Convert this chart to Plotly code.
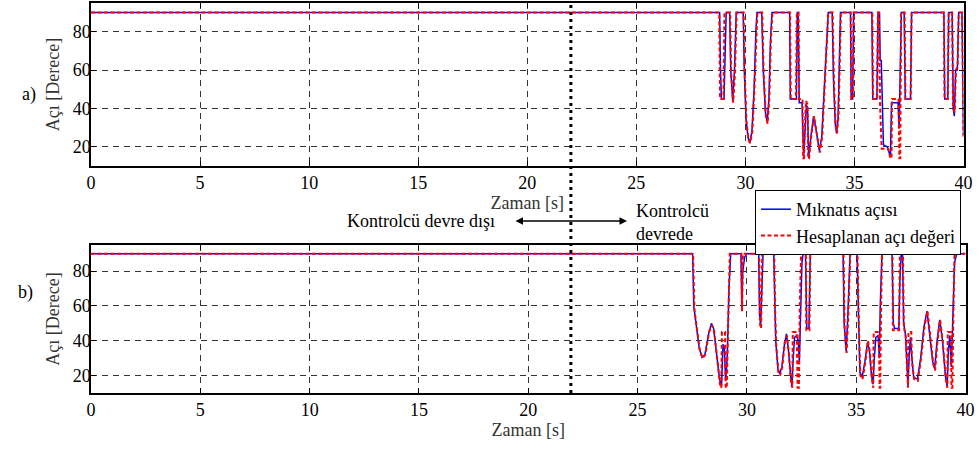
import plotly.graph_objects as go

# ---- data: time [s] and angle [deg] ----
# a) upper panel
t_a_blue = [0, 28.82, 28.86, 28.9, 29.02, 29.06, 29.12, 29.28, 29.33, 29.42, 29.5, 29.58, 29.9, 29.95,
            30.03, 30.12, 30.2, 30.3, 30.4, 30.48, 30.53, 30.75, 30.82, 30.92, 31.0, 31.08, 31.15, 31.22,
            32.03, 32.06, 32.34, 32.38, 32.42, 32.47, 32.6, 32.63, 32.67, 32.72, 32.8, 32.85, 32.9, 33.0,
            33.13, 33.25, 33.39, 33.5, 33.6, 33.7, 33.8, 33.98, 34.04, 34.12, 34.18, 34.25, 34.3, 34.36,
            34.82, 34.85, 34.92, 34.96, 35.8, 35.84, 36.03, 36.08, 36.15, 36.18, 36.23, 36.27, 36.33, 36.5,
            36.6, 36.65, 36.7, 37.0, 37.05, 37.1, 37.15, 37.28, 37.33, 37.57, 37.62, 39.1, 39.14, 39.28,
            39.32, 39.48, 39.53, 39.58, 39.64, 39.72, 39.78, 39.93, 40]
v_a_blue = [90, 90, 60, 45, 45, 70, 90, 90, 60, 44, 60, 90, 90, 60,
            35, 25, 22, 28, 50, 80, 90, 90, 60, 38, 33, 45, 75, 90,
            90, 45, 45, 90, 90, 43, 43, 30, 14, 25, 42, 40, 14, 25,
            36, 28, 18, 25, 45, 70, 90, 90, 55, 32, 27, 35, 60, 90,
            90, 45, 45, 90, 90, 45, 45, 90, 90, 65, 65, 40, 21, 20,
            17, 15, 43, 43, 30, 60, 90, 90, 45, 45, 90, 90, 45, 45,
            90, 90, 40, 36, 60, 60, 90, 90, 26]

t_a_red = [0, 28.8, 28.84, 29.0, 29.04, 29.3, 29.35, 29.44, 29.52, 29.6, 29.92, 29.97, 30.05, 30.14,
           30.22, 30.32, 30.42, 30.5, 30.55, 30.77, 30.84, 30.94, 31.02, 31.1, 31.17, 31.24, 32.05, 32.08,
           32.32, 32.36, 32.44, 32.46, 32.62, 32.65, 32.69, 32.72, 32.78, 32.85, 32.88, 32.92, 33.02, 33.15,
           33.27, 33.41, 33.52, 33.62, 33.72, 33.8, 34.0, 34.06, 34.14, 34.2, 34.27, 34.32, 34.38, 34.83,
           34.86, 34.94, 34.97, 35.82, 35.85, 36.04, 36.08, 36.12, 36.18, 36.25, 36.55, 36.65, 36.7, 36.72,
           37.02, 37.06, 37.1, 37.14, 37.3, 37.34, 37.58, 37.62, 39.1, 39.13, 39.28, 39.32, 39.48, 39.52,
           39.6, 39.65, 39.73, 39.78, 39.94, 40]
v_a_red = [90, 90, 45, 45, 90, 90, 58, 43, 58, 90, 90, 58, 33, 24,
           22, 28, 52, 82, 90, 90, 58, 36, 32, 46, 76, 90, 90, 45,
           45, 90, 90, 45, 45, 14, 14, 30, 44, 42, 14, 14, 26, 36,
           27, 17, 25, 46, 72, 90, 90, 54, 31, 27, 36, 62, 90, 90,
           45, 45, 90, 90, 45, 45, 90, 90, 40, 19, 19, 14, 14, 45,
           45, 14, 14, 90, 90, 45, 45, 90, 90, 45, 45, 90, 90, 40,
           38, 60, 62, 90, 90, 24]

# b) lower panel
t_b_blue = [0, 27.52, 27.57, 27.68, 27.82, 27.95, 28.08, 28.25, 28.38, 28.48, 28.62, 28.75, 28.84, 28.91,
            28.97, 29.03, 29.1, 29.18, 29.26, 29.73, 29.77, 29.81, 29.9, 30.0, 30.54, 30.58, 30.63, 30.68,
            30.74, 31.23, 31.27, 31.32, 31.42, 31.5, 31.6, 31.72, 31.81, 31.9, 32.0, 32.06, 32.12, 32.18,
            32.28, 32.35, 32.4, 32.45, 32.52, 32.57, 32.68, 32.74, 32.84, 32.9, 34.4, 34.45, 34.54, 34.62,
            34.72, 35.04, 35.1, 35.17, 35.27, 35.4, 35.52, 35.6, 35.7, 35.77, 35.83, 35.9, 36.0, 36.06,
            36.1, 36.18, 36.64, 36.7, 36.76, 36.95, 37.0, 37.06, 37.12, 37.17, 37.25, 37.32, 37.37, 37.42,
            37.48, 37.55, 37.63, 37.8, 37.95, 38.1, 38.24, 38.35, 38.5, 38.59, 38.7, 38.82, 38.95, 39.08,
            39.16, 39.22, 39.28, 39.35, 39.42, 39.5, 39.6, 40]
v_b_blue = [90, 90, 60, 48, 36, 30.5, 32, 44, 50, 47, 32, 18, 14, 38,
            36, 17, 30, 70, 90, 90, 58, 80, 88, 90, 90, 55, 49, 75,
            90, 90, 60, 40, 24, 21, 25, 38, 44, 35, 20, 14, 30, 42,
            43, 40, 28, 60, 85, 90, 90, 47, 47, 90, 90, 50, 34, 55,
            90, 90, 50, 22, 19, 28, 39, 35, 20, 15, 30, 42, 43, 30,
            60, 90, 90, 50, 47, 47, 75, 90, 90, 50, 44, 22, 14, 30,
            42, 30, 19, 18, 30, 48, 57, 45, 28, 24, 40, 52, 40, 20,
            14, 35, 43, 25, 55, 85, 90, 90]

t_b_red = [0, 27.54, 27.6, 27.7, 27.84, 27.97, 28.1, 28.27, 28.4, 28.5, 28.64, 28.77, 28.83, 28.86,
           29.0, 29.03, 29.08, 29.15, 29.22, 29.75, 29.78, 29.82, 30.56, 30.6, 30.65, 30.7, 31.25, 31.29,
           31.34, 31.44, 31.52, 31.62, 31.74, 31.83, 31.92, 32.02, 32.08, 32.1, 32.28, 32.32, 32.38, 32.42,
           32.48, 32.7, 32.72, 32.86, 32.9, 34.42, 34.47, 34.56, 34.64, 34.73, 35.06, 35.12, 35.19, 35.29,
           35.42, 35.54, 35.62, 35.72, 35.78, 35.8, 36.04, 36.07, 36.1, 36.14, 36.18, 36.66, 36.68, 36.96,
           37.0, 37.14, 37.18, 37.27, 37.33, 37.37, 37.39, 37.52, 37.55, 37.65, 37.82, 37.97, 38.12, 38.26,
           38.37, 38.52, 38.61, 38.72, 38.84, 38.97, 39.1, 39.17, 39.19, 39.33, 39.36, 39.4, 39.45, 39.5, 40]
v_b_red = [90, 90, 58, 47, 35, 30, 32, 45, 49, 46, 30, 15, 13, 45,
           45, 13, 13, 60, 90, 90, 57, 90, 90, 50, 47, 90, 90, 58,
           38, 22, 20, 25, 40, 43, 33, 16, 13, 45, 45, 13, 13, 60,
           90, 90, 46, 46, 90, 90, 48, 33, 55, 90, 90, 48, 20, 18,
           28, 40, 34, 18, 13, 45, 45, 13, 13, 60, 90, 90, 46, 46,
           90, 90, 48, 42, 20, 13, 45, 45, 28, 18, 17, 30, 48, 57,
           45, 27, 23, 40, 52, 38, 18, 13, 45, 45, 13, 13, 60, 90, 90]

x_ticks = [0, 5, 10, 15, 20, 25, 30, 35, 40]
y_ticks = [20, 40, 60, 80]
switch_time = 22  # controller switched on

series_names = ["Mıknatıs açısı", "Hesaplanan açı değeri"]
x_title = "Zaman [s]"
y_title = "Açı [Derece]"

FONT = "Liberation Serif"
W, H = 979, 450

fig = go.Figure()

blue = dict(color="#0000FF", width=1.5)
red = dict(color="#FF0000", width=2, dash="4px,2.5px")

fig.add_trace(go.Scatter(x=t_a_blue, y=v_a_blue, mode="lines", line=blue,
                         name=series_names[0], xaxis="x", yaxis="y", legendgroup="b"))
fig.add_trace(go.Scatter(x=t_a_red, y=v_a_red, mode="lines", line=red,
                         name=series_names[1], xaxis="x", yaxis="y", legendgroup="r"))
fig.add_trace(go.Scatter(x=t_b_blue, y=v_b_blue, mode="lines", line=blue,
                         name=series_names[0], xaxis="x2", yaxis="y2", showlegend=False, legendgroup="b"))
fig.add_trace(go.Scatter(x=t_b_red, y=v_b_red, mode="lines", line=red,
                         name=series_names[1], xaxis="x2", yaxis="y2", showlegend=False, legendgroup="r"))

def xaxis(dom, anchor):
    return dict(domain=dom, anchor=anchor, range=[0, 40], tickvals=x_ticks, automargin=False,
                ticks="inside", ticklen=5, tickwidth=1, tickcolor="black",
                showline=True, linecolor="black", linewidth=1.5, mirror="ticks",
                showgrid=True, gridcolor="#333333", gridwidth=1, griddash="6px,5px",
                zeroline=False, tickfont=dict(family=FONT, size=18, color="black"),
                title=dict(text=x_title, font=dict(family=FONT, size=18, color="#333333"), standoff=0))

def yaxis(dom, anchor):
    return dict(domain=dom, anchor=anchor, range=[10, 95], tickvals=y_ticks, automargin=False,
                ticks="inside", ticklen=5, tickwidth=1, tickcolor="black", ticklabelstandoff=-5,
                showline=True, linecolor="black", linewidth=1.5, mirror="ticks",
                showgrid=True, gridcolor="#333333", gridwidth=1, griddash="6px,5px",
                zeroline=False, tickfont=dict(family=FONT, size=18, color="black"),
                title=dict(text=y_title, font=dict(family=FONT, size=18, color="#333333"), standoff=8))

fig.update_layout(
    width=W, height=H,
    margin=dict(l=0, r=0, t=0, b=0),
    paper_bgcolor="white", plot_bgcolor="white",
    font=dict(family=FONT, size=18, color="black"),
    xaxis=xaxis([91 / W, 963.5 / W], "y"),
    yaxis=yaxis([1 - 166 / H, 1 - 3 / H], "x"),
    xaxis2=xaxis([91 / W, 965.5 / W], "y2"),
    yaxis2=yaxis([1 - 393 / H, 1 - 245 / H], "x2"),
    legend=dict(x=755 / W, y=1 - 190 / H, xanchor="left", yanchor="top",
                bordercolor="black", borderwidth=1, bgcolor="white",
                font=dict(family=FONT, size=18, color="black"),
                tracegroupgap=0, itemwidth=30),
    showlegend=True,
)

# dotted marker at the switching instant, spanning both panels
fig.add_shape(type="line", xref="x", yref="paper", x0=switch_time, x1=switch_time,
              y0=1 - 393 / H, y1=1 - 3 / H, line=dict(color="black", width=3, dash="3px,4px"))

# panel labels
fig.add_annotation(text="a)", xref="paper", yref="paper", x=20 / W, y=1 - 82 / H,
                   showarrow=False, font=dict(family=FONT, size=18))
fig.add_annotation(text="b)", xref="paper", yref="paper", x=16 / W, y=1 - 305 / H,
                   showarrow=False, font=dict(family=FONT, size=18))

# controller state annotations
fig.add_annotation(text="Kontrolcü devre dışı", xref="paper", yref="paper",
                   x=497 / W, y=1 - 221 / H, xanchor="right", showarrow=False,
                   font=dict(family=FONT, size=18))
fig.add_annotation(text="Kontrolcü<br>devrede", xref="paper", yref="paper",
                   x=634 / W, y=1 - 222 / H, xanchor="left", align="left", showarrow=False,
                   font=dict(family=FONT, size=18))
fig.add_annotation(text="", xref="paper", yref="paper", axref="pixel", ayref="pixel",
                   x=627 / W, y=1 - 221 / H, ax=-113, ay=0,
                   showarrow=True, arrowhead=2, startarrowhead=2, arrowside="end+start",
                   arrowwidth=1.5, arrowsize=1, startarrowsize=1, arrowcolor="black")

fig.write_html("out.html")
